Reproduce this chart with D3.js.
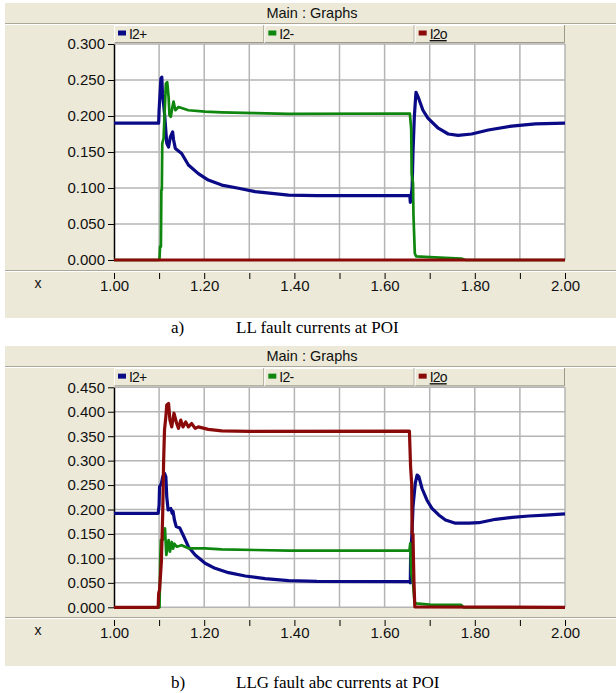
<!DOCTYPE html>
<html><head><meta charset="utf-8">
<script src="https://cdn.jsdelivr.net/npm/d3@7"></script>
<style>body{margin:0;background:#fff;} svg{display:block;}</style>
</head><body>
<script>
// ---------- data ----------
const xTicks = [1.0,1.1,1.2,1.3,1.4,1.5,1.6,1.7,1.8,1.9,2.0];
const xLabelTicks = [1.0,1.2,1.4,1.6,1.8,2.0];
const seriesNames = ["I2+","I2-","I2o"];
const seriesColors = ["#0a0a86","#0f870f","#8a0a0a"];
const yTicksA = [0,0.05,0.10,0.15,0.20,0.25,0.30];
const yTicksB = [0,0.05,0.10,0.15,0.20,0.25,0.30,0.35,0.40,0.45];

// Panel a) LL fault
const llPos = [[1.00,0.190],[1.099,0.190],[1.100,0.208],[1.104,0.252],[1.106,0.254],[1.1075,0.231],[1.112,0.204],[1.117,0.162],[1.121,0.157],[1.125,0.171],[1.130,0.178],[1.132,0.167],[1.136,0.155],[1.150,0.148],[1.165,0.132],[1.187,0.120],[1.209,0.111],[1.239,0.104],[1.276,0.0996],[1.313,0.095],[1.350,0.0926],[1.387,0.090],[1.45,0.0893],[1.656,0.0893],[1.657,0.080],[1.661,0.100],[1.663,0.150],[1.666,0.200],[1.6696,0.233],[1.674,0.227],[1.685,0.208],[1.696,0.197],[1.719,0.183],[1.741,0.175],[1.763,0.173],[1.793,0.175],[1.830,0.1806],[1.882,0.186],[1.934,0.189],[2.0,0.190]];
const llNeg = [[1.00,0],[1.100,0],[1.101,0.003],[1.102,0.0185],[1.104,0.0185],[1.105,0.097],[1.106,0.097],[1.107,0.162],[1.110,0.169],[1.112,0.200],[1.115,0.245],[1.118,0.247],[1.121,0.227],[1.123,0.201],[1.126,0.199],[1.129,0.2106],[1.132,0.220],[1.136,0.208],[1.143,0.2125],[1.150,0.211],[1.165,0.208],[1.202,0.206],[1.239,0.205],[1.313,0.204],[1.387,0.203],[1.656,0.2035],[1.659,0.1815],[1.660,0.120],[1.663,0.107],[1.664,0.0625],[1.667,0.009],[1.670,0.005],[1.700,0.004],[1.770,0.002],[1.780,0],[2.0,0]];
const llZero = [[1.00,0],[1.50,0],[2.00,0]];

// Panel b) LLG fault
const llgPos = [[1.00,0.192],[1.098,0.192],[1.100,0.209],[1.101,0.2466],[1.105,0.253],[1.108,0.267],[1.112,0.274],[1.115,0.267],[1.117,0.226],[1.120,0.199],[1.126,0.202],[1.129,0.192],[1.131,0.196],[1.134,0.1785],[1.138,0.165],[1.146,0.162],[1.155,0.1444],[1.165,0.124],[1.180,0.107],[1.202,0.090],[1.224,0.0797],[1.254,0.0708],[1.291,0.064],[1.335,0.0585],[1.387,0.0545],[1.45,0.053],[1.655,0.0524],[1.657,0.050],[1.6576,0.0967],[1.661,0.158],[1.663,0.206],[1.668,0.2535],[1.672,0.2706],[1.676,0.267],[1.683,0.243],[1.694,0.219],[1.705,0.2025],[1.720,0.189],[1.735,0.1785],[1.757,0.172],[1.787,0.172],[1.809,0.173],[1.846,0.180],[1.883,0.184],[1.920,0.1867],[1.957,0.1887],[2.0,0.191]];
const llgNeg = [[1.00,0],[1.101,0],[1.1025,0.097],[1.104,0.1376],[1.108,0.1376],[1.113,0.1615],[1.116,0.107],[1.121,0.1376],[1.124,0.1137],[1.128,0.1336],[1.131,0.120],[1.134,0.130],[1.139,0.124],[1.150,0.127],[1.165,0.1206],[1.202,0.1206],[1.239,0.1186],[1.313,0.1172],[1.387,0.1158],[1.655,0.1158],[1.657,0.131],[1.6576,0.110],[1.659,0.0695],[1.663,0.050],[1.666,0.015],[1.668,0.008],[1.700,0.0055],[1.770,0.005],[1.775,0],[2.0,0]];
const llgZero = [[1.00,0],[1.098,0],[1.099,0.0286],[1.101,0.0354],[1.105,0.093],[1.108,0.192],[1.110,0.298],[1.112,0.363],[1.115,0.390],[1.117,0.414],[1.121,0.417],[1.124,0.383],[1.128,0.369],[1.133,0.397],[1.139,0.376],[1.143,0.366],[1.148,0.383],[1.153,0.369],[1.159,0.379],[1.165,0.369],[1.172,0.376],[1.180,0.366],[1.187,0.369],[1.209,0.364],[1.239,0.361],[1.300,0.360],[1.655,0.3605],[1.6576,0.2875],[1.660,0.2535],[1.661,0.151],[1.663,0.149],[1.664,0.0967],[1.665,0.0558],[1.667,0.001],[2.0,0]];

const captions = ["a)", "LL fault currents at POI", "b)", "LLG fault abc currents at POI"];

// ---------- drawing ----------
const W = 616, H = 693;
const BEIGE = "#ECE9D8";
const FONT = "'Liberation Sans', Arial, sans-serif";
const svg = d3.select("body").append("svg").attr("width", W).attr("height", H);

function drawPanel(cfg) {
  const g = svg.append("g");
  const L = 114, R = 565;
  // background
  g.append("rect").attr("x", 5).attr("y", cfg.top).attr("width", W - 5).attr("height", cfg.bottom - cfg.top).attr("fill", BEIGE);
  // title bar
  g.append("text").attr("x", 312).attr("y", cfg.top + 15).attr("text-anchor", "middle")
    .attr("font-family", FONT).attr("font-size", 14.5).attr("fill", "#111").text("Main : Graphs");
  g.append("line").attr("x1", 5).attr("x2", W).attr("y1", cfg.top + 20.5).attr("y2", cfg.top + 20.5).attr("stroke", "#aca899");
  g.append("line").attr("x1", 5).attr("x2", W).attr("y1", cfg.top + 21.5).attr("y2", cfg.top + 21.5).attr("stroke", "#fff");

  const x = d3.scaleLinear().domain([1, 2]).range([L, R]);
  const y = d3.scaleLinear().domain([0, cfg.yMax]).range([cfg.plotBottom, cfg.plotTop]);

  // legend cells
  const cw = (R - L) / 3;
  const lt = cfg.top + 22, lh = cfg.plotTop - lt - 1;
  seriesNames.forEach((name, i) => {
    const cx = L + i * cw;
    g.append("rect").attr("x", cx).attr("y", lt).attr("width", cw).attr("height", lh).attr("fill", BEIGE);
    g.append("path").attr("d", `M${cx + 0.5},${lt + lh} V${lt + 0.5} H${cx + cw}`).attr("fill", "none").attr("stroke", "#fff");
    g.append("path").attr("d", `M${cx + 0.5},${lt + lh - 0.5} H${cx + cw - 0.5} V${lt}`).attr("fill", "none").attr("stroke", "#9d9a8c");
    g.append("rect").attr("x", cx + 4).attr("y", lt + lh / 2 - 3.5).attr("width", 8).attr("height", 5).attr("fill", seriesColors[i]);
    const t = g.append("text").attr("x", cx + 15).attr("y", lt + lh / 2 + 5).attr("font-family", FONT)
      .attr("font-size", 14).attr("letter-spacing", -0.8).attr("fill", "#111").text(name);
    if (i === 2) t.attr("text-decoration", "underline");
  });

  // plot area
  g.append("rect").attr("x", L).attr("y", cfg.plotTop).attr("width", R - L).attr("height", cfg.plotBottom - cfg.plotTop).attr("fill", "#fff");
  const grid = g.append("g").attr("stroke", "#b4b4b4").attr("stroke-width", 1.5);
  xTicks.slice(1).forEach(v => grid.append("line").attr("x1", x(v)).attr("x2", x(v)).attr("y1", cfg.plotTop).attr("y2", cfg.plotBottom));
  cfg.yTicks.forEach(v => grid.append("line").attr("x1", L).attr("x2", R).attr("y1", y(v)).attr("y2", y(v)));

  // y axis
  const ya = g.append("g").attr("transform", `translate(${L},0)`)
    .call(d3.axisLeft(y).tickValues(cfg.yTicks).tickFormat(d3.format(".3f")).tickSize(6).tickSizeOuter(0).tickPadding(3));
  ya.selectAll("text").attr("font-family", FONT).attr("font-size", 15).attr("fill", "#111");
  ya.select(".domain").attr("stroke", "#000").attr("stroke-width", 1.5);

  // traces
  const line = d3.line().x(d => x(d[0])).y(d => y(d[1]));
  const widths = [3.2, 2.7, 3.2];
  cfg.series.forEach((s, i) => {
    g.append("path").datum(s).attr("d", line).attr("fill", "none").attr("stroke", seriesColors[i])
      .attr("stroke-width", widths[i]).attr("stroke-linejoin", "round");
  });

  // x axis strip
  g.append("line").attr("x1", 5).attr("x2", W).attr("y1", cfg.axisY - 0.5).attr("y2", cfg.axisY - 0.5).attr("stroke", "#aca899");
  g.append("line").attr("x1", 5).attr("x2", W).attr("y1", cfg.axisY + 0.5).attr("y2", cfg.axisY + 0.5).attr("stroke", "#fff");
  const xa = g.append("g").attr("transform", `translate(0,${cfg.axisY + 2})`)
    .call(d3.axisBottom(x).tickValues(xTicks).tickSize(6).tickPadding(1)
      .tickFormat(d => xLabelTicks.some(v => Math.abs(v - d) < 1e-9) ? d3.format(".2f")(d) : ""));
  xa.select(".domain").remove();
  xa.selectAll("text").attr("font-family", FONT).attr("font-size", 15).attr("fill", "#111");
  g.append("text").attr("x", 38).attr("y", cfg.axisY + 17).attr("text-anchor", "middle")
    .attr("font-family", FONT).attr("font-size", 14).attr("fill", "#111").text("x");

  // caption
  const cap = g.append("text").attr("y", cfg.captionY).attr("font-family", "'Liberation Serif', 'Times New Roman', serif")
    .attr("font-size", 17).attr("fill", "#000");
  cap.append("tspan").attr("x", 171).text(cfg.capLabel);
  cap.append("tspan").attr("x", 236).text(cfg.capText);
}

drawPanel({top: 3, bottom: 318, plotTop: 44, plotBottom: 260, yMax: 0.30, yTicks: yTicksA,
  axisY: 271, captionY: 333, capLabel: captions[0], capText: captions[1], series: [llPos, llNeg, llZero]});
drawPanel({top: 346, bottom: 666, plotTop: 387.3, plotBottom: 607.3, yMax: 0.45, yTicks: yTicksB,
  axisY: 618, captionY: 688, capLabel: captions[2], capText: captions[3], series: [llgPos, llgNeg, llgZero]});
</script>
</body></html>
